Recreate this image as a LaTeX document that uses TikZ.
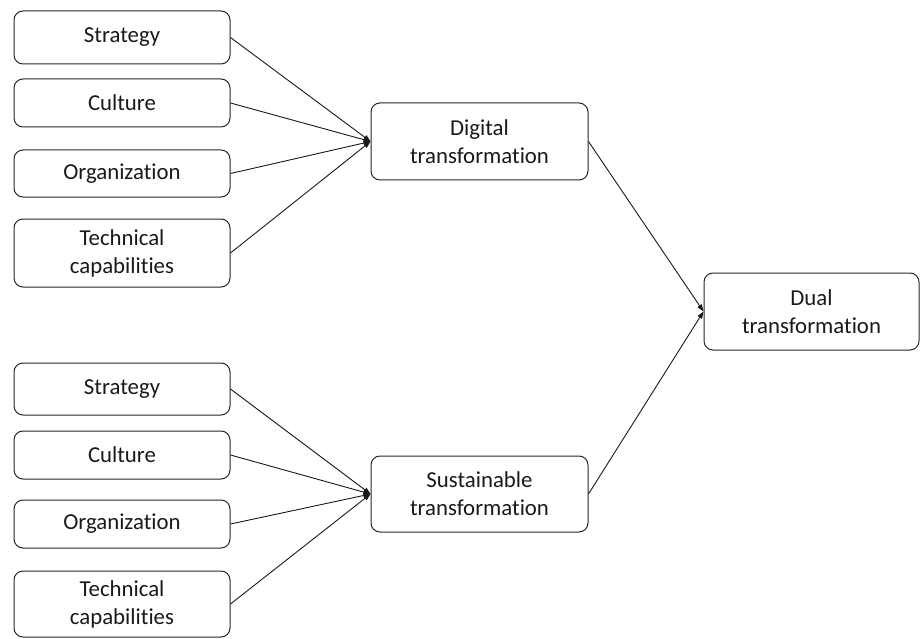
\documentclass[tikz,border=0pt]{standalone}
\usepackage{fontspec}
\setmainfont{Carlito}[Ligatures={NoCommon}]
\usetikzlibrary{arrows.meta}
\begin{document}
\begin{tikzpicture}[x=1pt,y=-1pt,
  box/.style={draw=black!85, line width=1pt, rounded corners=9pt, align=center,
    inner sep=0pt, font=\fontsize{22.8}{28}\selectfont, text=black!90},
  conn/.style={draw=black!90, line width=0.9pt, -{Triangle[length=7pt,width=5pt]}}]
\useasboundingbox (0,0) rectangle (920,639);

% factor boxes, upper group
\node[box, minimum width=216pt, minimum height=53pt] (s1) at (122,37.5) {Strategy};
\node[box, minimum width=216pt, minimum height=48pt] (c1) at (122,103) {Culture};
\node[box, minimum width=216pt, minimum height=47pt] (o1) at (122,173.5) {Organization};
\node[box, minimum width=216pt, minimum height=68pt] (t1) at (122,253) {Technical\\capabilities};

% factor boxes, lower group
\node[box, minimum width=216pt, minimum height=52pt] (s2) at (122,389) {Strategy};
\node[box, minimum width=216pt, minimum height=48pt] (c2) at (122,455) {Culture};
\node[box, minimum width=216pt, minimum height=48pt] (o2) at (122,524) {Organization};
\node[box, minimum width=216pt, minimum height=66pt] (t2) at (122,604) {Technical\\capabilities};

% transformation boxes
\node[box, minimum width=217pt, minimum height=77pt] (dig) at (479.5,141.5) {Digital\\transformation};
\node[box, minimum width=217pt, minimum height=76pt] (sus) at (479.5,494) {Sustainable\\transformation};
\node[box, minimum width=215pt, minimum height=77pt] (dual) at (811.5,311.5) {Dual\\transformation};

% connectors
\foreach \n in {s1,c1,o1,t1} \draw[conn] (\n.east) -- (dig.west);
\foreach \n in {s2,c2,o2,t2} \draw[conn] (\n.east) -- (sus.west);
\draw[conn] (dig.east) -- (dual.west);
\draw[conn] (sus.east) -- (dual.west);
\end{tikzpicture}
\end{document}
